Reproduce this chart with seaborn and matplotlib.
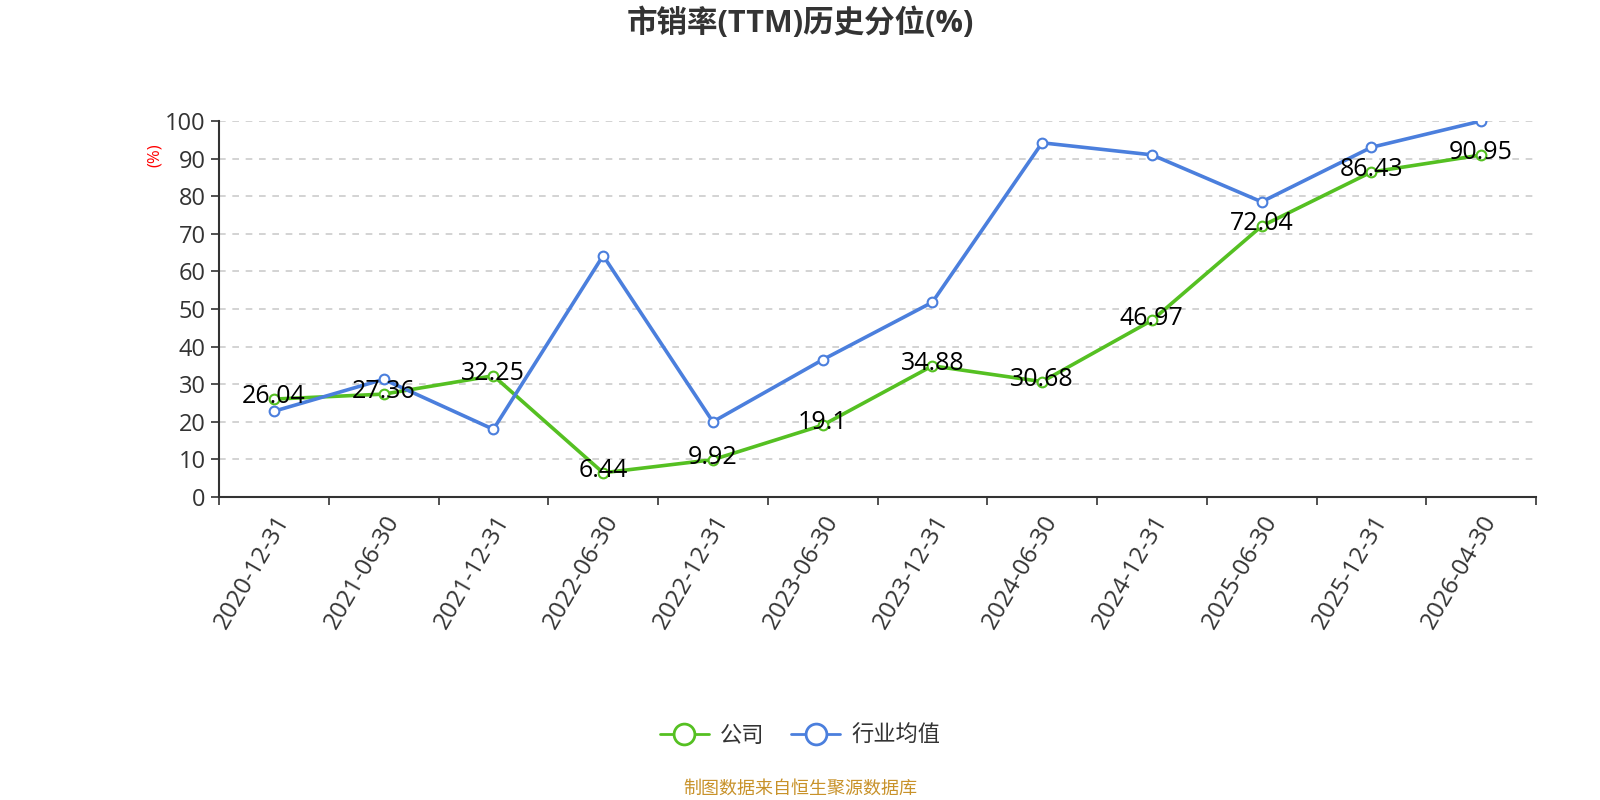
import matplotlib
matplotlib.use("Agg")
import matplotlib.pyplot as plt
from matplotlib.lines import Line2D
import numpy as np
import pandas as pd
import seaborn as sns

# data
dates = ["2020-12-31", "2021-06-30", "2021-12-31", "2022-06-30", "2022-12-31", "2023-06-30",
         "2023-12-31", "2024-06-30", "2024-12-31", "2025-06-30", "2025-12-31", "2026-04-30"]
company = [26.04, 27.36, 32.25, 6.44, 9.92, 19.1, 34.88, 30.68, 46.97, 72.04, 86.43, 90.95]
industry = [22.8, 31.3, 18.0, 64.2, 20.0, 36.5, 51.8, 94.2, 91.0, 78.5, 93.0, 100.0]
company_labels = ["26.04", "27.36", "32.25", "6.44", "9.92", "19.1", "34.88", "30.68",
                  "46.97", "72.04", "86.43", "90.95"]

green = "#55c022"
blue = "#4b7fdd"

sns.set_theme(style="white")
plt.rcParams['font.family'] = ['Open Sans', 'Noto Sans CJK SC', 'DejaVu Sans']

df = pd.DataFrame({"idx": list(range(len(dates))) * 2,
                   "value": company + industry,
                   "series": ["公司"] * len(dates) + ["行业均值"] * len(dates)})

fig = plt.figure(figsize=(16, 8), dpi=100)
ax = fig.add_axes([219 / 1600, 1 - 497 / 800, (1536 - 219) / 1600, (497 - 121) / 800])

sns.lineplot(data=df, x="idx", y="value", hue="series", palette=[green, blue],
             marker="o", markersize=7, markerfacecolor="white", markeredgewidth=1.5,
             linewidth=2.6, legend=False, ax=ax)
# marker edges in line colours
for line, c in zip(ax.get_lines(), [green, blue]):
    line.set_markeredgecolor(c)

for i, (v, lab) in enumerate(zip(company, company_labels)):
    ax.text(i, v + 0.6, lab, ha="center", va="center", fontsize=18, color="black", zorder=5)

ax.set_xlim(-0.5, len(dates) - 0.5)
ax.set_ylim(0, 100)
ax.set_yticks(np.arange(0, 101, 10))
ax.set_xticks(range(len(dates)))
ax.set_xticklabels(dates, rotation=60, ha="right", rotation_mode="anchor", fontsize=17.5, color="#333333")
ax.set_xticks(np.arange(-0.5, len(dates), 1), minor=True)
ax.tick_params(axis="x", which="major", length=0, pad=10)
ax.tick_params(axis="x", which="minor", length=6, width=1.2, color="#333333", direction="out", bottom=True)
ax.tick_params(axis="y", length=6, width=1.2, color="#333333", direction="out", left=True,
               labelsize=17, labelcolor="#333333")
ax.yaxis.grid(True, linestyle=(0, (4, 4)), color="#cccccc", linewidth=1.2)
ax.set_axisbelow(True)
for s in ["top", "right"]:
    ax.spines[s].set_visible(False)
for s in ["left", "bottom"]:
    ax.spines[s].set_color("#333333")
    ax.spines[s].set_linewidth(1.5)
ax.set_xlabel("")
ax.set_ylabel("")

fig.text(155 / 1600, 1 - 155 / 800, "(%)", rotation=90, color="red", fontsize=12, ha="center", va="center")

fig.text(0.5, 1 - 23 / 800, "市销率(TTM)历史分位(%)", ha="center", va="center",
         fontsize=22, fontweight="bold", color="#333333")

handles = [Line2D([0], [0], color=green, marker="o", markersize=15, markerfacecolor="white",
                  markeredgewidth=2, linewidth=2),
           Line2D([0], [0], color=blue, marker="o", markersize=15, markerfacecolor="white",
                  markeredgewidth=2, linewidth=2)]
fig.legend(handles, ["公司", "行业均值"], loc="center", bbox_to_anchor=(0.5, 1 - 736 / 800),
           ncol=2, frameon=False, fontsize=16, handlelength=2.2, columnspacing=1.2,
           handletextpad=0.5, labelcolor="#333333")

fig.text(0.5, 1 - 789 / 800, "制图数据来自恒生聚源数据库", ha="center", va="center",
         fontsize=13, color="#c8922a")

fig.savefig("out.png", dpi=100, facecolor="white")
